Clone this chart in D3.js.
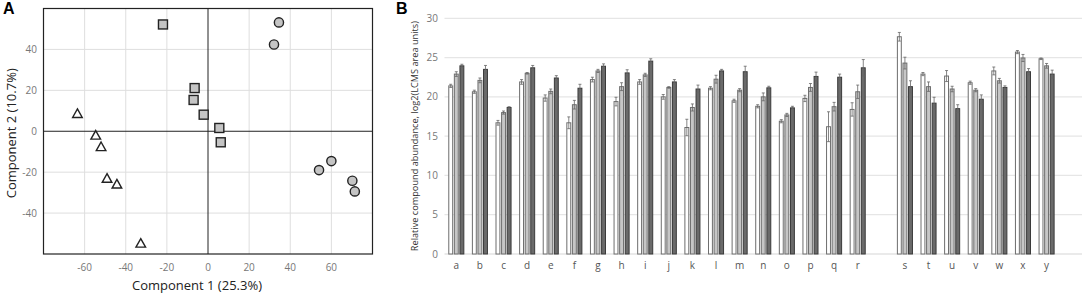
<!DOCTYPE html>
<html>
<head>
<meta charset="utf-8">
<script src="https://cdn.jsdelivr.net/npm/d3@7"></script>
<style>
  body { margin: 0; background: #fff; }
  svg { display: block; font-family: 'Open Sans', sans-serif; }
</style>
</head>
<body>
<div id="chart"></div>
<script>
// ---- panel A data (PCA scores) ----
let squares = [[-21.9, 52.2], [-6.5, 21.1], [-7.0, 15.3], [-2.1, 8.1], [5.5, 1.6], [6.2, -5.4]];
let circles = [[34.5, 53.2], [32.1, 42.4], [54.0, -19.0], [60.0, -14.6], [70.2, -24.2], [71.4, -29.4]];
let triangles = [[-63.5, 8.6], [-54.6, -2.0], [-52.0, -7.6], [-49.1, -23.1], [-44.3, -25.9], [-32.7, -54.8]];
let pcaXTicks = [-60, -40, -20, 0, 20, 40, 60];
let pcaYTicks = [-40, -20, 0, 20, 40];

// ---- panel B data ----
let compounds = ["a", "b", "c", "d", "e", "f", "g", "h", "i", "j", "k", "l", "m", "n", "o", "p", "q", "r", "gap1",
    "s", "t", "u", "v", "w", "x", "y", "gap2"];
let series1 = [21.4, 20.65, 16.7, 21.9, 19.85, 16.7, 22.2, 19.4, 21.9, 20.0, 16.1, 21.1, 19.5, 18.8, 16.9, 19.8, 16.2, 18.4, null,
    27.65, 22.9, 22.65, 21.8, 23.3, 25.7, 24.85, null];
let series2 = [22.9, 22.1, 18.0, 23.0, 20.7, 19.0, 23.3, 21.3, 22.8, 21.2, 18.65, 22.25, 20.85, 20.0, 17.7, 21.2, 18.75, 20.65, null,
    24.3, 21.3, 21.0, 20.85, 22.05, 24.95, 23.95, null];
let series3 = [23.95, 23.5, 18.65, 23.7, 22.4, 21.1, 23.9, 23.05, 24.55, 21.9, 21.0, 23.3, 23.2, 21.15, 18.6, 22.6, 22.5, 23.7, null,
    21.3, 19.2, 18.5, 19.7, 21.2, 23.2, 22.9, null];
let err1 = [0.2, 0.2, 0.3, 0.3, 0.4, 0.75, 0.3, 0.55, 0.3, 0.3, 1.05, 0.2, 0.2, 0.2, 0.2, 0.4, 1.9, 0.85, null,
    0.55, 0.2, 0.7, 0.2, 0.5, 0.2, 0.1, null];
let err2 = [0.3, 0.3, 0.2, 0.1, 0.3, 0.55, 0.2, 0.5, 0.2, 0.1, 0.45, 0.5, 0.2, 0.5, 0.2, 0.5, 0.55, 0.85, null,
    0.75, 0.6, 0.35, 0.2, 0.3, 0.45, 0.3, null];
let err3 = [0.2, 0.5, 0.1, 0.3, 0.3, 0.5, 0.3, 0.4, 0.3, 0.3, 0.5, 0.2, 0.7, 0.2, 0.2, 0.55, 0.4, 1.05, null,
    0.75, 0.75, 0.5, 0.55, 0.2, 0.4, 0.5, null];
let barYTicks = [0, 5, 10, 15, 20, 25, 30];

let svg = d3.select("#chart")
    .append("svg")
    .attr("width", 1084)
    .attr("height", 298);

// ================= Panel A =================
let ax = d3.scaleLinear().domain([-80, 80]).range([43.5, 372.5]);
let ay = d3.scaleLinear().domain([-60, 60]).range([254, 8.5]);

let gA = svg.append("g");

gA.selectAll(".vgrid")
    .data(pcaXTicks.filter(d => d !== 0))
    .enter().append("line")
    .attr("x1", d => ax(d)).attr("x2", d => ax(d))
    .attr("y1", ay(60)).attr("y2", ay(-60))
    .attr("stroke", "#dedede");
gA.selectAll(".hgrid")
    .data(pcaYTicks.filter(d => d !== 0))
    .enter().append("line")
    .attr("x1", ax(-80)).attr("x2", ax(80))
    .attr("y1", d => ay(d)).attr("y2", d => ay(d))
    .attr("stroke", "#dedede");

// zero lines
gA.append("line")
    .attr("x1", ax(0)).attr("x2", ax(0))
    .attr("y1", ay(60)).attr("y2", ay(-60))
    .attr("stroke", "#222");
gA.append("line")
    .attr("x1", ax(-80)).attr("x2", ax(80))
    .attr("y1", ay(0)).attr("y2", ay(0))
    .attr("stroke", "#222");

gA.append("rect")
    .attr("x", ax(-80)).attr("y", ay(60))
    .attr("width", ax(80) - ax(-80))
    .attr("height", ay(-60) - ay(60))
    .attr("fill", "none")
    .attr("stroke", "#222")
    .attr("stroke-width", 1.2);

gA.selectAll(".xlab")
    .data(pcaXTicks)
    .enter().append("text")
    .attr("x", d => ax(d))
    .attr("y", 271)
    .attr("text-anchor", "middle")
    .attr("font-size", 10)
    .attr("fill", "#777")
    .text(d => d);
gA.selectAll(".ylab")
    .data(pcaYTicks)
    .enter().append("text")
    .attr("x", 37)
    .attr("y", d => ay(d) + 3.5)
    .attr("text-anchor", "end")
    .attr("font-size", 10)
    .attr("fill", "#777")
    .text(d => d);

gA.append("text")
    .attr("x", 197)
    .attr("y", 290)
    .attr("text-anchor", "middle")
    .attr("font-size", 13)
    .attr("fill", "#222")
    .text("Component 1 (25.3%)");
gA.append("text")
    .attr("transform", "translate(16," + ay(-1) + ") rotate(-90)")
    .attr("text-anchor", "middle")
    .attr("font-size", 13)
    .attr("fill", "#222")
    .text("Component 2 (10.7%)");

gA.selectAll(".sq")
    .data(squares)
    .enter().append("rect")
    .attr("x", d => ax(d[0]) - 4.5)
    .attr("y", d => ay(d[1]) - 4.5)
    .attr("width", 9).attr("height", 9)
    .attr("fill", "#c4c4c4")
    .attr("stroke", "#222")
    .attr("stroke-width", 1.4);
gA.selectAll(".ci")
    .data(circles)
    .enter().append("circle")
    .attr("cx", d => ax(d[0]))
    .attr("cy", d => ay(d[1]))
    .attr("r", 4.6)
    .attr("fill", "#c4c4c4")
    .attr("stroke", "#222")
    .attr("stroke-width", 1.4);
gA.selectAll(".tri")
    .data(triangles)
    .enter().append("path")
    .attr("transform", d => "translate(" + ax(d[0]) + "," + ay(d[1]) + ")")
    .attr("d", "M0,-4.8L4.8,3.8L-4.8,3.8Z")
    .attr("fill", "#fff")
    .attr("stroke", "#222")
    .attr("stroke-width", 1.4);

svg.append("text")
    .attr("x", 3).attr("y", 14)
    .attr("font-family", "'Liberation Sans', Arial, sans-serif")
    .attr("font-weight", "bold")
    .attr("font-size", 16)
    .text("A");

// ================= Panel B =================
let bx = d3.scaleBand()
    .domain(compounds)
    .range([444.5, 1082])
    .paddingInner(0.32)
    .paddingOuter(0.16);
let by = d3.scaleLinear().domain([0, 30]).range([254, 18.3]);
let sx = d3.scaleBand().domain([0, 1, 2]).range([0, bx.bandwidth()]).paddingInner(0.12);

let gB = svg.append("g");

gB.selectAll(".bgrid")
    .data(barYTicks)
    .enter().append("line")
    .attr("x1", 444.5).attr("x2", 1082)
    .attr("y1", d => by(d)).attr("y2", d => by(d))
    .attr("stroke", d => d === 0 ? "#d6d6d6" : "#e6e6e6")
    .attr("stroke-width", 1.2);

gB.selectAll(".bylab")
    .data(barYTicks)
    .enter().append("text")
    .attr("x", 438)
    .attr("y", d => by(d) + 3.5)
    .attr("text-anchor", "end")
    .attr("font-size", 10)
    .attr("fill", "#777")
    .text(d => d);

gB.append("text")
    .attr("transform", "translate(418," + by(15) + ") rotate(-90)")
    .attr("text-anchor", "middle")
    .attr("font-size", 9.2)
    .attr("fill", "#333")
    .text("Relative compound abundance, log2(LCMS area units)");

gB.selectAll(".cat")
    .data(compounds)
    .enter().append("text")
    .attr("x", d => bx(d) + bx.bandwidth() / 2)
    .attr("y", 269)
    .attr("text-anchor", "middle")
    .attr("font-size", 10)
    .attr("fill", "#555")
    .text(d => d.indexOf("gap") === 0 ? "" : d);

let allSeries = [series1, series2, series3];
let allErr = [err1, err2, err3];
let fills = ["#ffffff", "#c6c6c6", "#6a6a6a"];
let strokes = ["#6e6e6e", "#6e6e6e", "#3a3a3a"];

let rows = [];
compounds.forEach(function (c, i) {
    for (let s = 0; s < 3; s++) {
        if (allSeries[s][i] !== null) {
            rows.push({ cat: c, s: s, v: allSeries[s][i], e: allErr[s][i] });
        }
    }
});

gB.selectAll(".bar")
    .data(rows)
    .enter().append("rect")
    .attr("x", d => bx(d.cat) + sx(d.s) + 0.5)
    .attr("y", d => by(d.v))
    .attr("width", sx.bandwidth() - 1)
    .attr("height", d => by(0) - by(d.v))
    .attr("fill", d => fills[d.s])
    .attr("stroke", d => strokes[d.s])
    .attr("stroke-width", 1);

// error bars
let eb = gB.selectAll(".err")
    .data(rows)
    .enter().append("g")
    .attr("stroke", "#666")
    .attr("stroke-width", 0.8);
eb.append("line")
    .attr("x1", d => bx(d.cat) + sx(d.s) + sx.bandwidth() / 2)
    .attr("x2", d => bx(d.cat) + sx(d.s) + sx.bandwidth() / 2)
    .attr("y1", d => by(d.v - d.e))
    .attr("y2", d => by(d.v + d.e));
eb.append("line")
    .attr("x1", d => bx(d.cat) + sx(d.s) + sx.bandwidth() / 2 - 1.5)
    .attr("x2", d => bx(d.cat) + sx(d.s) + sx.bandwidth() / 2 + 1.5)
    .attr("y1", d => by(d.v + d.e))
    .attr("y2", d => by(d.v + d.e));
eb.append("line")
    .attr("x1", d => bx(d.cat) + sx(d.s) + sx.bandwidth() / 2 - 1.5)
    .attr("x2", d => bx(d.cat) + sx(d.s) + sx.bandwidth() / 2 + 1.5)
    .attr("y1", d => by(d.v - d.e))
    .attr("y2", d => by(d.v - d.e));

svg.append("text")
    .attr("x", 396).attr("y", 14)
    .attr("font-family", "'Liberation Sans', Arial, sans-serif")
    .attr("font-weight", "bold")
    .attr("font-size", 16)
    .text("B");
</script>
</body>
</html>
